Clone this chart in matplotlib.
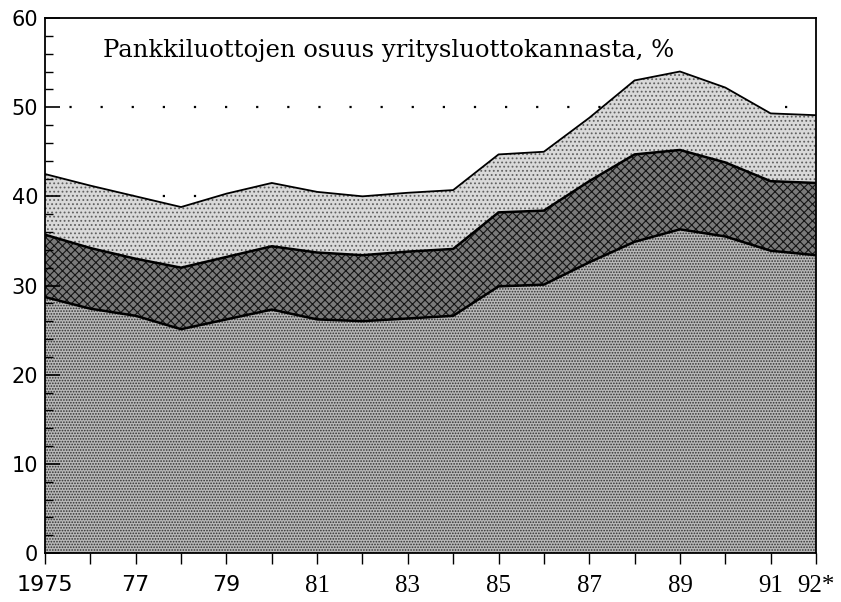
import matplotlib
matplotlib.use("Agg")
import matplotlib.pyplot as plt
import numpy as np

years = np.arange(1975, 1993)
# layer shares, %-points (bottom, middle, top)
layer_bottom = [28.7, 27.4, 26.6, 25.1, 26.2, 27.3, 26.2, 26.0, 26.3, 26.6,
                29.9, 30.1, 32.6, 34.9, 36.3, 35.5, 33.9, 33.4]
layer_middle = [7.0, 6.8, 6.4, 6.9, 7.0, 7.1, 7.5, 7.4, 7.5, 7.5,
                8.3, 8.3, 9.1, 9.8, 8.9, 8.3, 7.8, 8.1]
layer_top = [6.8, 7.0, 7.0, 6.8, 7.1, 7.1, 6.8, 6.6, 6.6, 6.6,
             6.5, 6.6, 7.1, 8.3, 8.8, 8.4, 7.6, 7.6]

xtick_pos = [1975, 1977, 1979, 1981, 1983, 1985, 1987, 1989, 1991, 1992]
xtick_labels = ['1975', '77', '79', '81', '83', '85', '87', '89', '91', '92*']
ref_levels = [40, 50]
title = 'Pankkiluottojen osuus yritysluottokannasta, %'

plt.rcParams['hatch.linewidth'] = 0.8

fig = plt.figure(figsize=(8.41, 6.02), dpi=100)
ax = fig.add_axes([45/841, 1-553/602, (816-45)/841, (553-18)/602])

b1 = np.array(layer_bottom)
b2 = b1 + np.array(layer_middle)
b3 = b2 + np.array(layer_top)

for lv in ref_levels:
    ax.axhline(lv, color='k', lw=1.6, ls=(3, (1, 13)), zorder=0.5)

ax.fill_between(years, 0, b1, facecolor='#b8b8b8', edgecolor='#303030',
                hatch='......', lw=0, zorder=1)
ax.fill_between(years, b1, b2, facecolor='#7a7a7a', edgecolor='#151515',
                hatch='xxxx', lw=0, zorder=1)
ax.fill_between(years, b2, b3, facecolor='#d9d9d9', edgecolor='#606060',
                hatch='....', lw=0, zorder=1)

ax.plot(years, b1, color='k', lw=1.8, zorder=2)
ax.plot(years, b2, color='k', lw=1.8, zorder=2)
ax.plot(years, b3, color='k', lw=1.3, zorder=2)

ax.set_xlim(1975, 1992)
ax.set_ylim(0, 60)

ax.set_yticks(np.arange(0, 61, 10))
ax.set_yticks(np.arange(0, 61, 2), minor=True)
ax.tick_params(axis='y', which='major', direction='in', length=11, width=1.2,
               labelsize=15, pad=5)
ax.tick_params(axis='y', which='minor', direction='in', length=5.5, width=1.0)
for lab in ax.get_yticklabels():
    lab.set_family('DejaVu Sans')

ax.set_xticks(years)
ax.set_xticklabels([''] * len(years))
ax.tick_params(axis='x', direction='out', length=8, width=1.0, pad=6)
for x, s in zip(xtick_pos, xtick_labels):
    fam = 'DejaVu Sans' if x < 1980 else 'Liberation Serif'
    size = 16 if x < 1980 else 18
    ax.text(x, -2.5, s, ha='center', va='top', fontsize=size, family=fam,
            clip_on=False)

for sp in ax.spines.values():
    sp.set_linewidth(1.3)

ax.text(0.075, 0.927, title, transform=ax.transAxes, fontsize=17.5,
        family='DejaVu Serif', va='baseline', ha='left', zorder=3)

fig.savefig('out.png', dpi=100)
